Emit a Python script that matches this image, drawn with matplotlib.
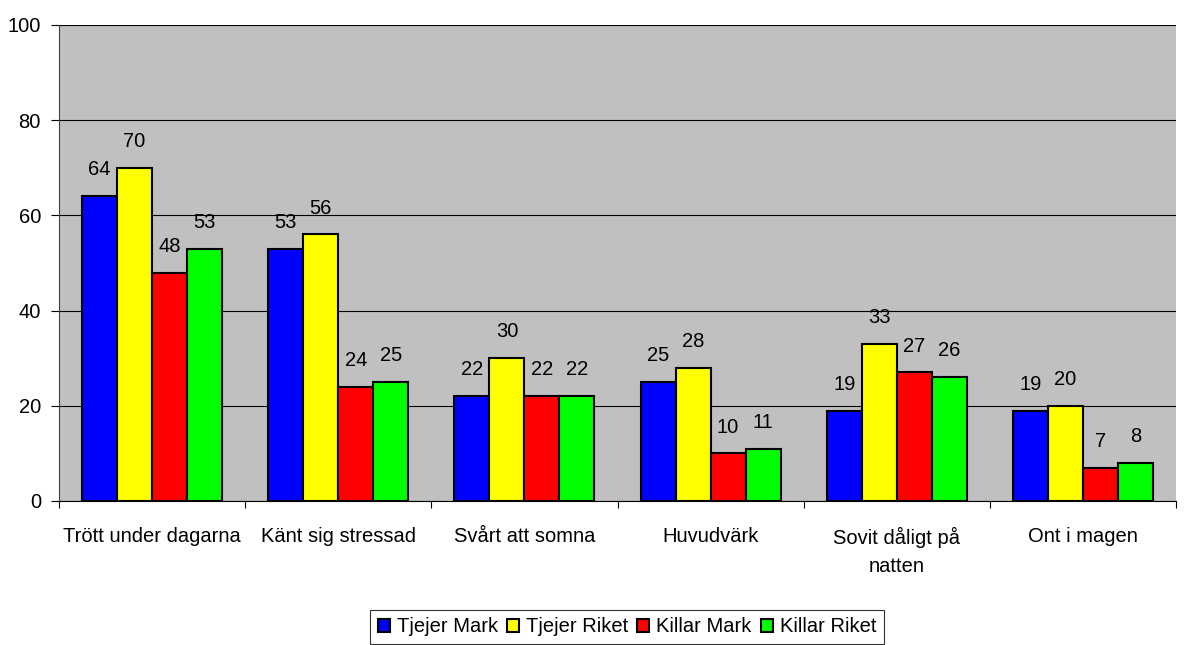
import numpy as np
import matplotlib
matplotlib.use("Agg")
import matplotlib.pyplot as plt
from matplotlib.ticker import FixedLocator

plt.rcParams['font.family'] = ['Liberation Sans', 'DejaVu Sans']

categories = ["Trött under dagarna", "Känt sig stressad", "Svårt att somna",
              "Huvudvärk", "Sovit dåligt på\nnatten", "Ont i magen"]
series_names = ["Tjejer Mark", "Tjejer Riket", "Killar Mark", "Killar Riket"]
tjejer_mark = [64, 53, 22, 25, 19, 19]
tjejer_riket = [70, 56, 30, 28, 33, 20]
killar_mark = [48, 24, 22, 10, 27, 7]
killar_riket = [53, 25, 22, 11, 26, 8]
colors = ["#0000FF", "#FFFF00", "#FF0000", "#00FF00"]

values = [tjejer_mark, tjejer_riket, killar_mark, killar_riket]
fs = 14.5

fig = plt.figure(figsize=(11.89, 6.45), dpi=100)
ax = fig.add_axes([59 / 1189, 1 - 501 / 645, (1176 - 59) / 1189, (501 - 25) / 645])
ax.set_facecolor("#C0C0C0")

x = np.arange(len(categories))
w = 0.188
for i, (vals, name, c) in enumerate(zip(values, series_names, colors)):
    pos = x + (i - 1.5) * w
    bars = ax.bar(pos, vals, width=w, color=c, edgecolor="black", linewidth=1.5,
                  label=name, zorder=3)
    for b, v in zip(bars, vals):
        ax.annotate(str(v), (b.get_x() + b.get_width() / 2, v), xytext=(0, 19),
                    textcoords="offset points", ha="center", va="center",
                    fontsize=fs, zorder=4)

ax.set_xlim(-0.5, len(categories) - 0.5)
ax.set_ylim(0, 100)
ax.set_yticks([0, 20, 40, 60, 80, 100])
ax.yaxis.grid(True, color="black", linewidth=0.8, zorder=1)
ax.tick_params(axis="y", labelsize=fs, length=6, width=0.8, pad=7)
ax.set_xticks(x)
ax.set_xticklabels(categories, fontsize=fs, linespacing=1.6, va="top")
ax.tick_params(axis="x", which="major", length=0, pad=19)
ax.xaxis.set_minor_locator(FixedLocator(np.arange(-0.5, len(categories), 1)))
ax.tick_params(axis="x", which="minor", length=5, width=0.8)

for s in ["top", "right"]:
    ax.spines[s].set_visible(False)
ax.spines["left"].set_color("#404040")
ax.spines["bottom"].set_color("black")

leg = fig.legend(loc="center", bbox_to_anchor=(627 / 1189, 1 - 627 / 645), ncol=4,
                 fontsize=fs, frameon=True, fancybox=False, edgecolor="black",
                 handlelength=0.6, handleheight=0.6, handletextpad=0.35,
                 columnspacing=0.45, borderpad=0.35)
leg.get_frame().set_linewidth(0.8)

fig.savefig("out.png", dpi=100)
